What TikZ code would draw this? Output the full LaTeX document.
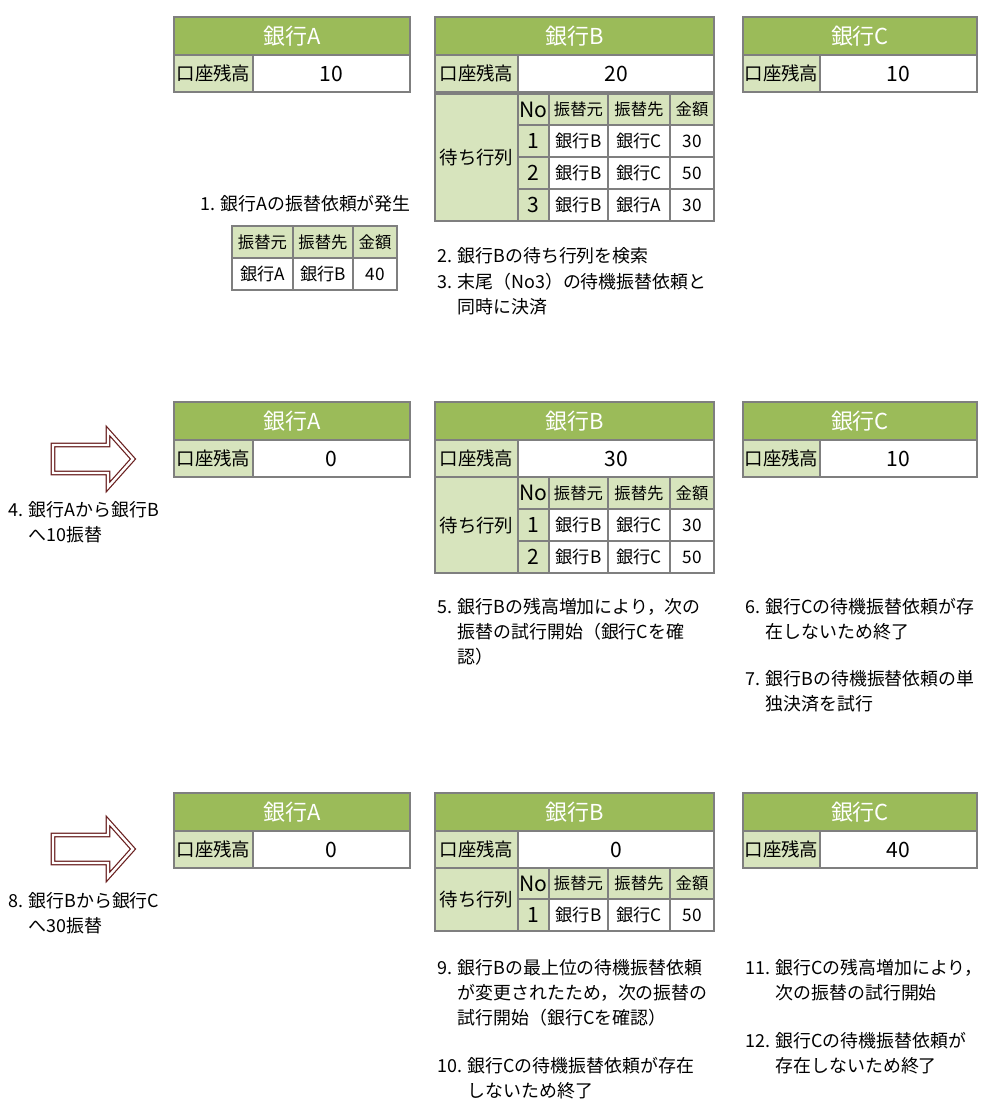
\documentclass[tikz,border=0pt]{standalone}
\usepackage{fontspec}
\setmainfont{Noto Sans CJK JP}
\usetikzlibrary{positioning}
\definecolor{hdrgreen}{HTML}{9BBB59}
\definecolor{lightgreen}{HTML}{D7E4BD}
\definecolor{gridgray}{HTML}{7F7F7F}
\definecolor{arrowred}{HTML}{6A2020}

% one table cell: name, x1, y1, x2, y2, style, text (pixel units)
\newcommand\tcell[7]{%
  \pgfmathsetmacro\cellw{((#4)-(#2))*0.02}%
  \pgfmathsetmacro\cellh{((#5)-(#3))*0.02}%
  \node[#6, minimum width=\cellw cm, minimum height=\cellh cm] (#1)
    at ({((#2)+(#4))/2},{((#3)+(#5))/2}) {#7};}

% bank header + balance row: name, x1, x2, xsplit, ytop, title, balance
\newcommand\bank[7]{%
  \tcell{#1h}{#2}{#5}{#3}{(#5)+38}{hdr}{#6}
  \tcell{#1l}{#2}{(#5)+38}{#4}{(#5)+75}{lbl}{口座残高}
  \tcell{#1v}{#4}{(#5)+38}{#3}{(#5)+75}{bal}{#7}}

% one queue row of bank B: name, ytop, no, from, to, amount
\newcommand\qrow[6]{%
  \tcell{#1n}{518}{#2}{549}{(#2)+32}{qnum}{#3}
  \tcell{#1s}{549}{#2}{608}{(#2)+32}{qval}{#4}
  \tcell{#1d}{608}{#2}{670}{(#2)+32}{qval}{#5}
  \tcell{#1a}{670}{#2}{714}{(#2)+32}{qval}{#6}}

\begin{document}
\begin{tikzpicture}[
    x=0.02cm, y=-0.02cm,
    cellbase/.style={draw=gridgray, line width=0.6pt, inner sep=0pt, outer sep=0pt},
    hdr/.style={cellbase, fill=hdrgreen, text=white, font=\fontsize{12.5}{15}\selectfont},
    lbl/.style={cellbase, fill=lightgreen, font=\fontsize{10.5}{13}\selectfont},
    bal/.style={cellbase, fill=white, font=\fontsize{12}{14}\selectfont},
    qhead/.style={cellbase, fill=lightgreen, font=\fontsize{9.3}{12}\selectfont},
    qnum/.style={cellbase, fill=lightgreen, font=\fontsize{12}{14}\selectfont},
    qval/.style={cellbase, fill=white, font=\fontsize{9.8}{12}\selectfont},
    steptext/.style={anchor=north west, inner sep=0pt, align=left,
        font=\fontsize{10.2}{14.2}\selectfont},
    bigarrow/.style={draw=arrowred, line width=0.7pt, double=white,
        double distance=1.4pt, fill=white, line join=miter}
]
\useasboundingbox (0,0) rectangle (1000,1117);

%% row 1 : initial state
\bank{a1}{174}{410}{253}{17}{銀行A}{10}
\bank{b1}{435}{714}{518}{17}{銀行B}{20}
\bank{c1}{743}{977}{820}{17}{銀行C}{10}
\tcell{b1q}{435}{94}{518}{221}{lbl}{待ち行列}
\tcell{b1qn}{518}{94}{549}{125}{qnum}{No}
\tcell{b1qs}{549}{94}{608}{125}{qhead}{振替元}
\tcell{b1qd}{608}{94}{670}{125}{qhead}{振替先}
\tcell{b1qa}{670}{94}{714}{125}{qhead}{金額}
\qrow{b1r1}{125}{1}{銀行B}{銀行C}{30}
\qrow{b1r2}{157}{2}{銀行B}{銀行C}{50}
\qrow{b1r3}{189}{3}{銀行B}{銀行A}{30}

\node[steptext] (s1) at (200,195) {1. 銀行Aの振替依頼が発生};
\tcell{t1s}{232}{226}{293}{258}{qhead}{振替元}
\tcell{t1d}{293}{226}{353}{258}{qhead}{振替先}
\tcell{t1a}{353}{226}{397}{258}{qhead}{金額}
\tcell{t2s}{232}{258}{293}{290}{qval}{銀行A}
\tcell{t2d}{293}{258}{353}{290}{qval}{銀行B}
\tcell{t2a}{353}{258}{397}{290}{qval}{40}

\node[steptext] (s2) at (437,247) {2. 銀行Bの待ち行列を検索};
\node[steptext] (s3) at (437,273) {3. 末尾（No3）の待機振替依頼と\\\phantom{3. }同時に決済};

%% row 2 : after A -> B
\draw[bigarrow] (53,445) -- (108,445) -- (108,431) -- (133,459)
    -- (108,487) -- (108,473) -- (53,473) -- cycle;
\node[steptext] (s4) at (8,501) {4. 銀行Aから銀行B\\\phantom{4. }へ10振替};

\bank{a2}{174}{410}{253}{402}{銀行A}{0}
\bank{b2}{435}{714}{518}{402}{銀行B}{30}
\bank{c2}{743}{977}{820}{402}{銀行C}{10}
\tcell{b2q}{435}{477}{518}{573}{lbl}{待ち行列}
\tcell{b2qn}{518}{477}{549}{509}{qnum}{No}
\tcell{b2qs}{549}{477}{608}{509}{qhead}{振替元}
\tcell{b2qd}{608}{477}{670}{509}{qhead}{振替先}
\tcell{b2qa}{670}{477}{714}{509}{qhead}{金額}
\qrow{b2r1}{509}{1}{銀行B}{銀行C}{30}
\qrow{b2r2}{541}{2}{銀行B}{銀行C}{50}

\node[steptext] (s5) at (437,598) {5. 銀行Bの残高増加により，次の\\\phantom{5. }振替の試行開始（銀行Cを確\\\phantom{5. }認）};
\node[steptext] (s6) at (745,598) {6. 銀行Cの待機振替依頼が存\\\phantom{6. }在しないため終了};
\node[steptext] (s7) at (745,670) {7. 銀行Bの待機振替依頼の単\\\phantom{7. }独決済を試行};

%% row 3 : after B -> C
\draw[bigarrow] (53,835) -- (108,835) -- (108,821) -- (133,849)
    -- (108,877) -- (108,863) -- (53,863) -- cycle;
\node[steptext] (s8) at (8,892) {8. 銀行Bから銀行C\\\phantom{8. }へ30振替};

\bank{a3}{174}{410}{253}{793}{銀行A}{0}
\bank{b3}{435}{714}{518}{793}{銀行B}{0}
\bank{c3}{743}{977}{820}{793}{銀行C}{40}
\tcell{b3q}{435}{868}{518}{931}{lbl}{待ち行列}
\tcell{b3qn}{518}{868}{549}{899}{qnum}{No}
\tcell{b3qs}{549}{868}{608}{899}{qhead}{振替元}
\tcell{b3qd}{608}{868}{670}{899}{qhead}{振替先}
\tcell{b3qa}{670}{868}{714}{899}{qhead}{金額}
\qrow{b3r1}{899}{1}{銀行B}{銀行C}{50}

\node[steptext] (s9) at (437,959) {9. 銀行Bの最上位の待機振替依頼\\\phantom{9. }が変更されたため，次の振替の\\\phantom{9. }試行開始（銀行Cを確認）};
\node[steptext] (s10) at (437,1057) {10. 銀行Cの待機振替依頼が存在\\\phantom{10. }しないため終了};
\node[steptext] (s11) at (745,959) {11. 銀行Cの残高増加により，\\\phantom{11. }次の振替の試行開始};
\node[steptext] (s12) at (745,1032) {12. 銀行Cの待機振替依頼が\\\phantom{12. }存在しないため終了};
\end{tikzpicture}
\end{document}
